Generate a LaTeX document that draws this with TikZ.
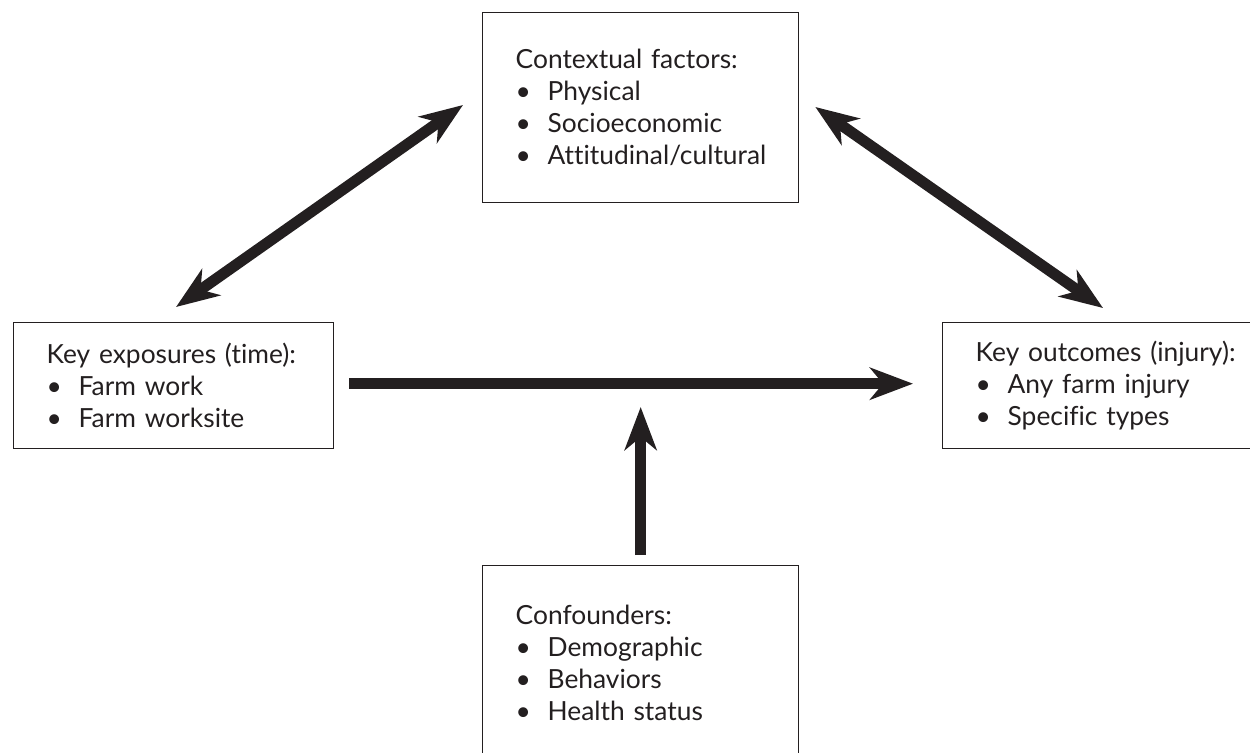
\documentclass[tikz,border=0pt]{standalone}
\usepackage{fontspec}
\setmainfont{Lato}[Ligatures={NoCommon}]
\usetikzlibrary{arrows.meta,calc}
\definecolor{ink}{HTML}{231F20}
\newcommand{\bul}{\makebox[0.64cm][l]{\textbullet}}

\begin{document}
\begin{tikzpicture}[
  x=0.02cm,y=-0.02cm,
  box/.style={draw=ink, line width=0.8pt, anchor=north west, align=left, inner xsep=0.66cm, inner ysep=0pt, text=ink, font=\fontsize{15}{18.2}\selectfont},
  side/.style={box, text width=5.08cm, minimum height=2.52cm},
  mid/.style={box, text width=5.0cm, minimum height=3.8cm},
  arr/.style={-{Stealth[length=0.86cm,width=0.64cm,inset=0.26cm]}, line width=0.22cm, draw=ink},
  dbl/.style={{Stealth[length=0.86cm,width=0.64cm,inset=0.26cm]}-{Stealth[length=0.86cm,width=0.64cm,inset=0.26cm]}, line width=0.22cm, draw=ink}
]
\clip (0,0) rectangle (1250,752);
\node[mid] (ctx) at (482,12) {Contextual factors:\\\bul Physical\\\bul Socioeconomic\\\bul Attitudinal/cultural};
\node[side] (expo) at (13,322) {Key exposures (time):\\\bul Farm work\\\bul Farm worksite};
\node[side, text width=5.5cm] (outc) at (942,322) {Key outcomes (injury):\\\bul Any farm injury\\\bul Specific types};
\node[mid, minimum height=3.88cm] (conf) at (482,565) {Confounders:\\\bul Demographic\\\bul Behaviors\\\bul Health status};
\coordinate (hit) at ($(conf.north)+(0,-158)$);
\draw[dbl] ($(expo.north west)+(163,-15)$) -- ($(ctx.north west)+(-19,93)$);
\draw[dbl] ($(ctx.north east)+(16,95)$) -- ($(outc.north west)+(161,-14)$);
\draw[arr] ($(expo.east)+(15,-2)$) -- ($(outc.west)+(-29,-2)$);
\draw[arr, shorten <=10*0.02cm] (conf.north) -- (hit);
\end{tikzpicture}
\end{document}
